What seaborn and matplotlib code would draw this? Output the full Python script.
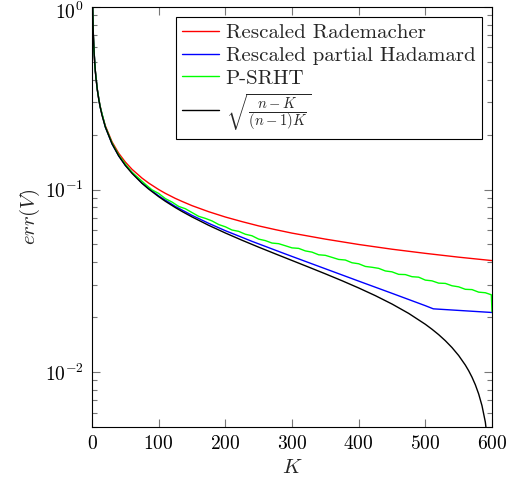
import matplotlib
matplotlib.use("Agg")
import matplotlib.pyplot as plt
import matplotlib.transforms as mtransforms
import seaborn as sns
import pandas as pd
from matplotlib.ticker import LogLocator, FixedLocator

# values
k_bound = [1, 2, 3, 4, 5, 6, 8, 10, 12, 15, 20, 30, 40, 50, 60, 75, 85, 100, 110, 125, 135,
           150, 175, 200, 225, 250, 275, 300, 325, 350, 375, 400, 425, 450, 475, 500, 510,
           520, 530, 540, 550, 560, 565, 570, 575, 580, 585, 590, 595]
bound = [1.0, 0.7065, 0.5764, 0.4988, 0.4457, 0.4065, 0.3515, 0.3138, 0.2860, 0.2552, 0.2200,
         0.1781, 0.1529, 0.1355, 0.1226, 0.1081, 0.10057, 0.0914, 0.08624, 0.07965, 0.07583,
         0.0708, 0.06367, 0.0578, 0.05275, 0.04834, 0.04442, 0.04086, 0.03758, 0.03453,
         0.03165, 0.02889, 0.02622, 0.02359, 0.02096, 0.01827, 0.01716, 0.01603, 0.01485,
         0.01362, 0.01232, 0.01092, 0.01017, 0.009374, 0.00852, 0.007587, 0.00654, 0.00532,
         0.003746]

k_rad = [1, 2, 3, 4, 5, 6, 8, 10, 12, 15, 20, 30, 40, 50, 60, 75, 85, 100, 110, 125, 135,
         150, 175, 200, 225, 250, 275, 300, 350, 400, 450, 500, 550, 600]
rad = [1.0, 0.7071, 0.5774, 0.5, 0.4472, 0.4082, 0.3536, 0.3162, 0.2887, 0.2582, 0.2236,
       0.1826, 0.1581, 0.1414, 0.1291, 0.1155, 0.1085, 0.1, 0.0953, 0.0894, 0.0861, 0.0816,
       0.0756, 0.0707, 0.0667, 0.0632, 0.0603, 0.0577, 0.0535, 0.05, 0.0471, 0.0447, 0.0426,
       0.0408]

k_had = [1, 2, 3, 5, 8, 12, 20, 30, 40, 50, 75, 100, 125, 150, 175, 200, 225, 240, 262, 282,
         300, 350, 400, 450, 500, 512, 600]
had = [1.0, 0.707, 0.577, 0.446, 0.352, 0.286, 0.220, 0.1782, 0.1531, 0.1358, 0.1085, 0.0923,
       0.0808, 0.0722, 0.0653, 0.0595, 0.0547, 0.0520, 0.0485, 0.0455, 0.0430, 0.0368,
       0.0315, 0.0270, 0.0231, 0.0222, 0.0212]

k_srht = [1, 2, 3, 5, 8, 12, 20, 30, 40, 50, 60, 70, 80, 90, 100, 110, 120, 130, 140, 150,
          160, 170, 180, 190, 200, 210, 220, 230, 240, 250, 260, 270, 280, 290, 300, 310, 320,
          330, 340, 350, 360, 370, 380, 390, 400, 410, 420, 430, 440, 450, 460, 470, 480, 490,
          500, 510, 520, 530, 540, 550, 560, 570, 580, 590, 599, 600]
srht = [1.0, 0.707, 0.577, 0.446, 0.352, 0.287, 0.221, 0.180, 0.1547, 0.1379, 0.1243, 0.1154,
        0.1069, 0.0996, 0.0952, 0.0892, 0.0854, 0.0808, 0.0785, 0.0748, 0.0713, 0.0695,
        0.0673, 0.0643, 0.0625, 0.0600, 0.0590, 0.0569, 0.0558, 0.0535, 0.0525, 0.0509,
        0.0505, 0.0492, 0.0479, 0.0476, 0.0461, 0.0454, 0.0439, 0.0436, 0.0425, 0.0414,
        0.0411, 0.0397, 0.0392, 0.0379, 0.0375, 0.0370, 0.0358, 0.0354, 0.0343, 0.0342,
        0.0333, 0.0331, 0.0319, 0.0316, 0.0307, 0.0306, 0.0297, 0.0293, 0.0284, 0.0283,
        0.0274, 0.0272, 0.0265, 0.0214]

labels = ["Rescaled Rademacher", "Rescaled partial Hadamard", "P-SRHT",
          r"$\sqrt{\frac{n-K}{(n-1)K}}$"]
colors = ["#ff0000", "#0000ff", "#00ff00", "#000000"]

sns.set_style("ticks")
plt.rcParams["font.family"] = "serif"
plt.rcParams["font.serif"] = ["cmr10"]
plt.rcParams["mathtext.fontset"] = "cm"
plt.rcParams["axes.formatter.use_mathtext"] = True

fig = plt.figure(figsize=(5.08, 4.86), dpi=100)
ax = fig.add_axes([92 / 508, 1 - 427 / 486, 400 / 508, 420 / 486])

series = [(k_rad, rad), (k_had, had), (k_srht, srht), (k_bound, bound)]
for (kk, vv), lab, col in zip(series, labels, colors):
    df = pd.DataFrame({"K": kk, "err": vv})
    sns.lineplot(data=df, x="K", y="err", color=col, label=lab, linewidth=1.0,
                 estimator=None, ax=ax)

ax.set_yscale("log")
ax.set_xlim(0, 600)
ax.set_ylim(5e-3, 1)
ax.xaxis.set_major_locator(FixedLocator([0, 100, 200, 300, 400, 500, 600]))
ax.yaxis.set_major_locator(FixedLocator([1e-2, 1e-1, 1]))
ax.yaxis.set_minor_locator(LogLocator(base=10, subs=range(2, 10), numticks=10))
ax.tick_params(which="both", direction="in", top=True, right=True, colors="#777777",
               labelcolor="black", labelsize=14, width=0.8)
ax.tick_params(which="major", length=6, pad=6)
ax.tick_params(which="minor", length=3.5)
for sp in ax.spines.values():
    sp.set_color("black")
    sp.set_linewidth(0.8)

# nudge the 10^0 label down a little so it stays inside the figure
top_tick = ax.yaxis.get_major_ticks()[2]
top_tick.label1.set_transform(top_tick.label1.get_transform()
                              + mtransforms.ScaledTranslation(0, -3 / 100, fig.dpi_scale_trans))

ax.set_xlabel("$K$", fontsize=15, labelpad=4)
ax.set_ylabel("$err(V)$", fontsize=15, labelpad=2)

leg = ax.legend(loc="upper right", fontsize=15, frameon=True, fancybox=False,
                edgecolor="black", framealpha=1, handlelength=1.8, handletextpad=0.3,
                borderpad=0.3, labelspacing=0.2, borderaxespad=0.5)
leg.get_frame().set_linewidth(0.8)

fig.savefig("out.png", dpi=100)
